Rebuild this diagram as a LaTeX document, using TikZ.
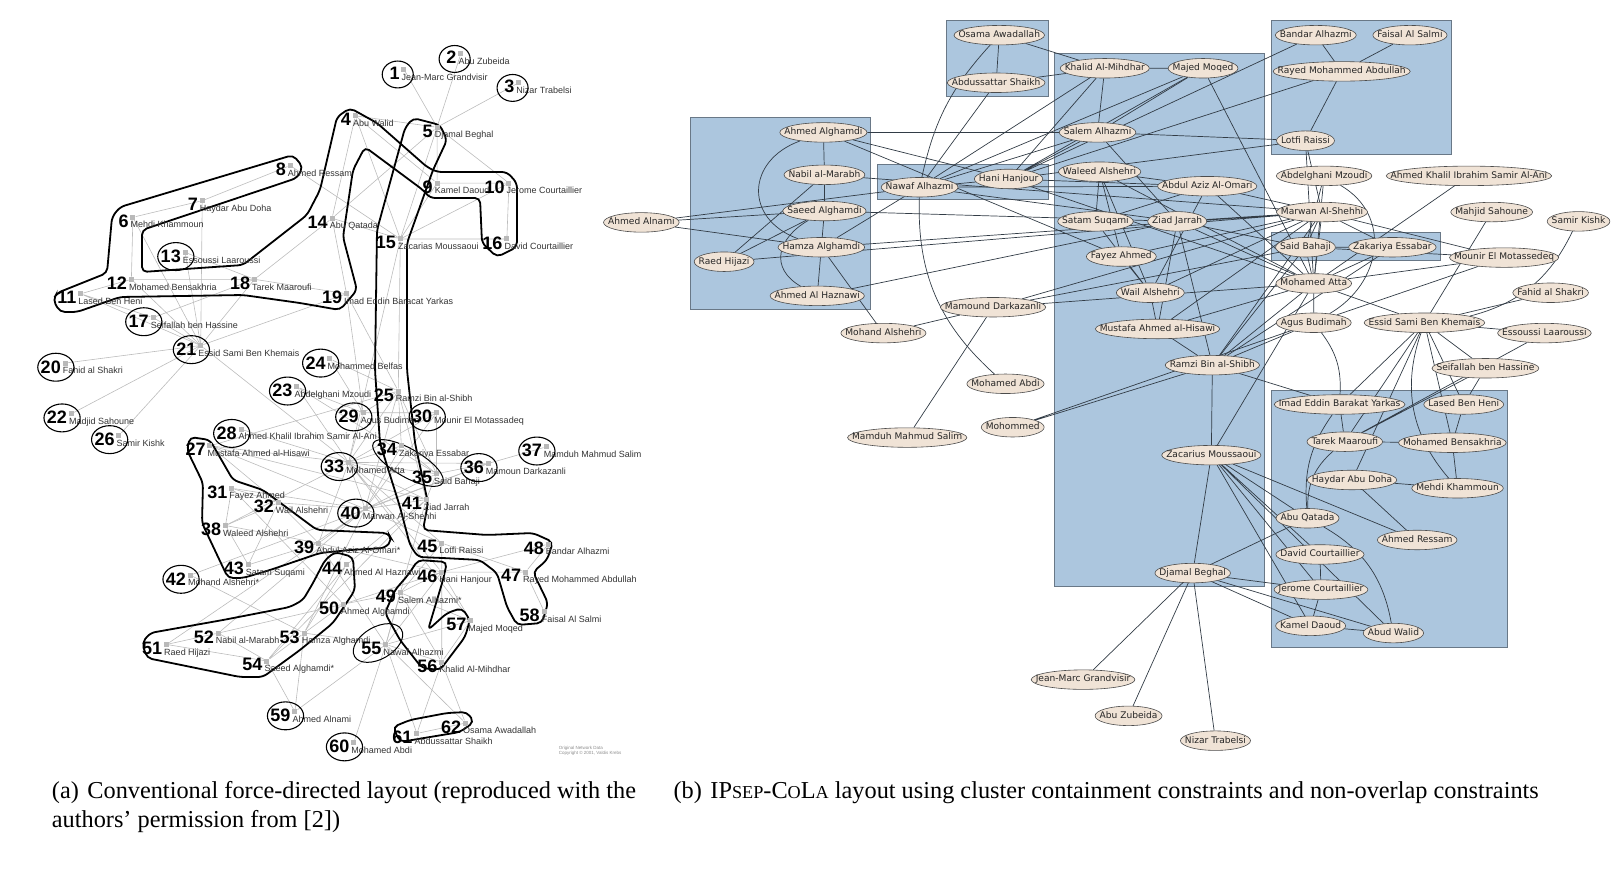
\documentclass[tikz,border=0pt]{standalone}
\usepackage{fontspec}
\setmainfont{Liberation Serif}
\setsansfont{Liberation Sans}
\newfontfamily\elfont{DejaVu Sans}
\usetikzlibrary{shapes}
\definecolor{clusterfill}{RGB}{172,198,222}
\definecolor{clusterline}{RGB}{105,120,135}
\definecolor{personfill}{RGB}{240,227,214}
\definecolor{linkc}{RGB}{50,60,70}
\definecolor{tiec}{RGB}{188,188,188}
\pgfdeclarelayer{back}
\pgfdeclarelayer{ties}
\pgfsetlayers{back,ties,main}
\tikzstyle{asq} = [rectangle, fill=gray!55, minimum size=5pt, inner sep=0pt]
\tikzstyle{anum} = [anchor=north east, inner sep=0pt, xshift=-1.5pt, font=\sffamily\bfseries\fontsize{18}{18}\selectfont]
\tikzstyle{alab} = [anchor=base west, inner sep=0pt, xshift=-2.5pt, yshift=-8pt, text=black!80, font=\sffamily\fontsize{9}{9}\selectfont]
\tikzstyle{ring} = [draw=black, line width=1.1pt]
\tikzstyle{hull} = [draw=black, line width=1.8pt, rounded corners=5pt]
\tikzstyle{tie} = [draw=tiec, line width=0.6pt]
\tikzstyle{person} = [ellipse, draw=black!70, fill=personfill, line width=0.6pt, inner xsep=3.2pt, inner ysep=0pt, minimum height=19.5pt, text height=6.6pt, text depth=1.9pt, text=black!85, font=\elfont\fontsize{9.1}{10}\selectfont]
\tikzstyle{cluster} = [draw=clusterline, fill=clusterfill, line width=0.7pt]
\tikzstyle{link} = [draw=linkc, line width=0.7pt]
\tikzstyle{caption} = [anchor=base west, inner sep=0pt, font=\rmfamily\fontsize{24.3}{24.3}\selectfont]
\tikzstyle{credit} = [anchor=west, align=left, inner sep=0pt, text=black!45, font=\sffamily\fontsize{4.5}{5}\selectfont]
\newcommand{\pname}[1]{\makebox[.7071\width]{#1}}
\newcommand{\smc}[1]{{\fontsize{18.2}{18.2}\selectfont #1}}

\begin{document}
\begin{tikzpicture}[x=1.03444pt, y=-1.03444pt]
\useasboundingbox (0,0) rectangle (1568,849);

% (a) hulls
\begin{scope}[x=1pt, y=-1pt]
\draw [hull] (293,155) -- (303,167) -- (297,178) -- (142,230) -- (142,272) -- (243,265) -- (307,215) -- (320,190) -- (337,117) -- (350,108) -- (377,123) -- (427,167) -- (437,172) -- (507,172) -- (517,183) -- (517,247) -- (497,257) -- (482,243) -- (480,198) -- (430,198) -- (423,190) -- (365,147) -- (353,170) -- (343,237) -- (357,290) -- (340,310) -- (300,303) -- (243,295) -- (120,297) -- (77,312) -- (60,312) -- (53,300) -- (57,293) -- (107,273) -- (112,217) -- (120,207) -- cycle;
\draw [hull] (413,118) -- (440,125) -- (447,140) -- (433,170) -- (407,243) -- (407,370) -- (415,443) -- (428,503) -- (423,530) -- (487,535) -- (533,533) -- (553,542) -- (547,560) -- (533,572) -- (548,603) -- (542,623) -- (517,625) -- (507,607) -- (497,573) -- (480,560) -- (443,558) -- (418,557) -- (410,545) -- (400,507) -- (380,443) -- (375,370) -- (377,230) -- (405,128) -- cycle;
\draw [hull] (190,437) -- (210,440) -- (233,480) -- (263,490) -- (317,530) -- (388,533) -- (392,540) -- (385,548) -- (350,550) -- (320,553) -- (270,570) -- (243,578) -- (228,578) -- (202,523) -- (203,483) -- (187,450) -- cycle;
\draw [hull] (142,643) -- (150,633) -- (223,620) -- (290,607) -- (303,600) -- (313,583) -- (325,560) -- (335,552) -- (353,557) -- (355,590) -- (333,623) -- (300,650) -- (263,677) -- (240,677) -- (147,658) -- cycle;
\draw [hull] (418,560) -- (447,562) -- (443,580) -- (428,630) -- (447,613) -- (462,608) -- (470,620) -- (465,637) -- (440,670) -- (422,668) -- (400,640) -- (385,613) -- (395,590) -- (408,575) -- cycle;
\draw [hull] (393,727) -- (410,720) -- (447,713) -- (467,712) -- (474,722) -- (460,732) -- (400,742) -- cycle;
\draw [hull, line width=1pt, rotate around={30:(378,643)}] (378,643) ellipse [x radius=27, y radius=16];
\draw [hull, line width=1pt, rotate around={-30:(408,463)}] (408,463) ellipse [x radius=40, y radius=14];
\end{scope}

% (a) nodes
\node (a1) [asq, label={[anum]135:1}, label={[alab]-90:Jean-Marc Grandvisir}] at (390.5,67) {};
\node (a2) [asq, label={[anum]135:2}, label={[alab]-90:Abu Zubeida}] at (445.5,52) {};
\node (a3) [asq, label={[anum]135:3}, label={[alab]-90:Nizar Trabelsi}] at (501.5,80) {};
\node (a4) [asq, label={[anum]135:4}, label={[alab]-90:Abu Walid}] at (343.5,112) {};
\node (a5) [asq, label={[anum]135:5}, label={[alab]-90:Djamal Beghal}] at (422.5,123) {};
\node (a6) [asq, label={[anum]135:6}, label={[alab]-90:Mehdi Khammoun}] at (128.5,210) {};
\node (a7) [asq, label={[anum]135:7}, label={[alab]-90:Haydar Abu Doha}] at (195.5,194) {};
\node (a8) [asq, label={[anum]135:8}, label={[alab]-90:Ahmed Ressam}] at (280.5,160) {};
\node (a9) [asq, label={[anum]135:9}, label={[alab]-90:Kamel Daoud}] at (422.5,177) {};
\node (a10) [asq, label={[anum]135:10}, label={[alab]-90:Jerome Courtaillier}] at (492,177) {};
\node (a11) [asq, label={[anum]135:11}, label={[alab]-90:Lased Ben Heni}] at (78,284) {};
\node (a12) [asq, label={[anum]135:12}, label={[alab]-90:Mohamed Bensakhria}] at (127,270) {};
\node (a13) [asq, label={[anum]135:13}, label={[alab]-90:Essoussi Laaroussi}] at (179,244) {};
\node (a14) [asq, label={[anum]135:14}, label={[alab]-90:Abu Qatada}] at (321,211) {};
\node (a15) [asq, label={[anum]135:15}, label={[alab]-90:Zacarias Moussaoui}] at (387,231) {};
\node (a16) [asq, label={[anum]135:16}, label={[alab]-90:David Courtaillier}] at (490,231) {};
\node (a17) [asq, label={[anum]135:17}, label={[alab]-90:Seifallah ben Hassine}] at (148,307) {};
\node (a18) [asq, label={[anum]135:18}, label={[alab]-90:Tarek Maaroufi}] at (246,270) {};
\node (a19) [asq, label={[anum]135:19}, label={[alab]-90:Imad Eddin Baracat Yarkas}] at (335,284) {};
\node (a20) [asq, label={[anum]135:20}, label={[alab]-90:Fahid al Shakri}] at (63,351) {};
\node (a21) [asq, label={[anum]135:21}, label={[alab]-90:Essid Sami Ben Khemais}] at (194,334) {};
\node (a22) [asq, label={[anum]135:22}, label={[alab]-90:Madjid Sahoune}] at (69,400) {};
\node (a23) [asq, label={[anum]135:23}, label={[alab]-90:Abdelghani Mzoudi}] at (287,374) {};
\node (a24) [asq, label={[anum]135:24}, label={[alab]-90:Mohammed Belfas}] at (319,347) {};
\node (a25) [asq, label={[anum]135:25}, label={[alab]-90:Ramzi Bin al-Shibh}] at (385,378) {};
\node (a26) [asq, label={[anum]135:26}, label={[alab]-90:Samir Kishk}] at (115,421) {};
\node (a27) [asq, label={[anum]135:27}, label={[alab]-90:Mustafa Ahmed al-Hisawi}] at (203,431) {};
\node (a28) [asq, label={[anum]135:28}, label={[alab]-90:Ahmed Khalil Ibrahim Samir Al-Ani}] at (233,415) {};
\node (a29) [asq, label={[anum]135:29}, label={[alab]-90:Agus Budiman}] at (351,399) {};
\node (a30) [asq, label={[anum]135:30}, label={[alab]-90:Mounir El Motassadeq}] at (422,399) {};
\node (a31) [asq, label={[anum]135:31}, label={[alab]-90:Fayez Ahmed}] at (224,472) {};
\node (a32) [asq, label={[anum]135:32}, label={[alab]-90:Wail Alshehri}] at (269,486) {};
\node (a33) [asq, label={[anum]135:33}, label={[alab]-90:Mohamed Atta}] at (337,447) {};
\node (a34) [asq, label={[anum]135:34}, label={[alab]-90:Zakariya Essabar}] at (388,431) {};
\node (a35) [asq, label={[anum]135:35}, label={[alab]-90:Said Bahaji}] at (422,458) {};
\node (a36) [asq, label={[anum]135:36}, label={[alab]-90:Mamoun Darkazanli}] at (472,448) {};
\node (a37) [asq, label={[anum]135:37}, label={[alab]-90:Mamduh Mahmud Salim}] at (528,432) {};
\node (a38) [asq, label={[anum]135:38}, label={[alab]-90:Waleed Alshehri}] at (218,508) {};
\node (a39) [asq, label={[anum]135:39}, label={[alab]-90:Abdul Aziz Al-Omari*}] at (308,525) {};
\node (a40) [asq, label={[anum]135:40}, label={[alab]-90:Marwan Al-Shehhi}] at (353,492) {};
\node (a41) [asq, label={[anum]135:41}, label={[alab]-90:Ziad Jarrah}] at (412,483) {};
\node (a42) [asq, label={[anum]135:42}, label={[alab]-90:Mohand Alshehri*}] at (184,556) {};
\node (a43) [asq, label={[anum]135:43}, label={[alab]-90:Satam Suqami}] at (240,546) {};
\node (a44) [asq, label={[anum]135:44}, label={[alab]-90:Ahmed Al Haznawi}] at (335,546) {};
\node (a45) [asq, label={[anum]135:45}, label={[alab]-90:Lotfi Raissi}] at (427,525) {};
\node (a46) [asq, label={[anum]135:46}, label={[alab]-90:Hani Hanjour}] at (427,553) {};
\node (a47) [asq, label={[anum]135:47}, label={[alab]-90:Rayed Mohammed Abdullah}] at (508,553) {};
\node (a48) [asq, label={[anum]135:48}, label={[alab]-90:Bandar Alhazmi}] at (530,526) {};
\node (a49) [asq, label={[anum]135:49}, label={[alab]-90:Salem Alhazmi*}] at (387,573) {};
\node (a50) [asq, label={[anum]135:50}, label={[alab]-90:Ahmed Alghamdi}] at (332,584) {};
\node (a51) [asq, label={[anum]135:51}, label={[alab]-90:Raed Hijazi}] at (161,623) {};
\node (a52) [asq, label={[anum]135:52}, label={[alab]-90:Nabil al-Marabh}] at (211,612) {};
\node (a53) [asq, label={[anum]135:53}, label={[alab]-90:Hamza Alghamdi}] at (294,612) {};
\node (a54) [asq, label={[anum]135:54}, label={[alab]-90:Saeed Alghamdi*}] at (258,639) {};
\node (a55) [asq, label={[anum]135:55}, label={[alab]-90:Nawaf Alhazmi}] at (373,623) {};
\node (a56) [asq, label={[anum]135:56}, label={[alab]-90:Khalid Al-Mihdhar}] at (427,640) {};
\node (a57) [asq, label={[anum]135:57}, label={[alab]-90:Majed Moqed}] at (455,600) {};
\node (a58) [asq, label={[anum]135:58}, label={[alab]-90:Faisal Al Salmi}] at (526,591) {};
\node (a59) [asq, label={[anum]135:59}, label={[alab]-90:Ahmed Alnami}] at (285,688) {};
\node (a60) [asq, label={[anum]135:60}, label={[alab]-90:Mohamed Abdi}] at (342,718) {};
\node (a61) [asq, label={[anum]135:61}, label={[alab]-90:Abdussattar Shaikh}] at (403,709) {};
\node (a62) [asq, label={[anum]135:62}, label={[alab]-90:Osama Awadallah}] at (450,699) {};
\node (credit) [credit] at (540,726) {Original Network Data\\Copyright \textcopyright{} 2001, Valdis Krebs};

% (a) rings
\draw [ring] (a1) ++(-6,5) ellipse [x radius=15, y radius=13];
\draw [ring] (a2) ++(-6,5) ellipse [x radius=15, y radius=13];
\draw [ring] (a3) ++(-6,5) ellipse [x radius=15, y radius=13];
\draw [ring] (a13) ++(-9,4) ellipse [x radius=17.5, y radius=13.5];
\draw [ring] (a17) ++(-9,4) ellipse [x radius=17.5, y radius=13.5];
\draw [ring] (a20) ++(-9,4) ellipse [x radius=17.5, y radius=13.5];
\draw [ring] (a21) ++(-9,4) ellipse [x radius=17.5, y radius=13.5];
\draw [ring] (a22) ++(-9,4) ellipse [x radius=17.5, y radius=13.5];
\draw [ring] (a23) ++(-9,4) ellipse [x radius=17.5, y radius=13.5];
\draw [ring] (a24) ++(-9,4) ellipse [x radius=17.5, y radius=13.5];
\draw [ring] (a26) ++(-9,4) ellipse [x radius=17.5, y radius=13.5];
\draw [ring] (a28) ++(-9,4) ellipse [x radius=17.5, y radius=13.5];
\draw [ring] (a29) ++(-9,4) ellipse [x radius=17.5, y radius=13.5];
\draw [ring] (a30) ++(-9,4) ellipse [x radius=17.5, y radius=13.5];
\draw [ring] (a33) ++(-9,4) ellipse [x radius=17.5, y radius=13.5];
\draw [ring] (a36) ++(-9,4) ellipse [x radius=17.5, y radius=13.5];
\draw [ring] (a37) ++(-9,4) ellipse [x radius=17.5, y radius=13.5];
\draw [ring] (a40) ++(-9,4) ellipse [x radius=17.5, y radius=13.5];
\draw [ring] (a42) ++(-9,4) ellipse [x radius=17.5, y radius=13.5];
\draw [ring] (a59) ++(-9,4) ellipse [x radius=17.5, y radius=13.5];
\draw [ring] (a60) ++(-9,4) ellipse [x radius=17.5, y radius=13.5];

% (a) edges
\begin{pgfonlayer}{ties}
\draw [tie] (a5) -- (a1) (a5) -- (a2) (a5) -- (a3) (a5) -- (a4) (a5) -- (a9) (a5) -- (a10) (a5) -- (a14) (a5) -- (a15);
\draw [tie] (a15) -- (a4) (a15) -- (a8) (a15) -- (a9) (a15) -- (a10) (a15) -- (a14) (a15) -- (a16) (a15) -- (a25) (a15) -- (a33);
\draw [tie] (a14) -- (a4) (a14) -- (a18) (a14) -- (a19) (a16) -- (a10) (a10) -- (a9) (a9) -- (a4);
\draw [tie] (a19) -- (a18) (a19) -- (a25) (a19) -- (a29) (a19) -- (a21) (a18) -- (a12) (a18) -- (a17) (a18) -- (a21) (a18) -- (a13);
\draw [tie] (a12) -- (a11) (a12) -- (a6) (a12) -- (a21) (a11) -- (a21) (a11) -- (a17) (a7) -- (a6) (a7) -- (a8) (a7) -- (a21) (a6) -- (a21);
\draw [tie] (a21) -- (a13) (a21) -- (a17) (a21) -- (a20) (a21) -- (a22) (a21) -- (a26) (a21) -- (a33);
\draw [tie] (a30) -- (a40) (a30) -- (a33) (a30) -- (a35) (a30) -- (a29) (a28) -- (a33) (a23) -- (a29) (a23) -- (a33) (a23) -- (a35);
\draw [tie] (a24) -- (a25) (a24) -- (a29) (a29) -- (a33) (a29) -- (a25);
\draw [tie] (a33) -- (a40) (a33) -- (a41) (a33) -- (a35) (a33) -- (a34) (a33) -- (a25) (a33) -- (a39) (a33) -- (a38) (a33) -- (a27) (a33) -- (a36) (a33) -- (a46) (a33) -- (a45) (a33) -- (a57);
\draw [tie] (a40) -- (a41) (a40) -- (a35) (a40) -- (a34) (a40) -- (a25) (a40) -- (a31) (a40) -- (a53) (a40) -- (a52) (a40) -- (a45) (a40) -- (a36) (a40) -- (a27) (a40) -- (a32) (a40) -- (a39) (a40) -- (a51);
\draw [tie] (a41) -- (a25) (a41) -- (a35) (a41) -- (a44) (a41) -- (a54) (a41) -- (a55) (a41) -- (a49) (a41) -- (a27);
\draw [tie] (a25) -- (a35) (a25) -- (a34) (a25) -- (a27) (a35) -- (a34) (a35) -- (a36);
\draw [tie] (a39) -- (a38) (a39) -- (a43) (a39) -- (a32) (a39) -- (a46) (a39) -- (a55) (a38) -- (a32) (a38) -- (a43) (a38) -- (a31);
\draw [tie] (a32) -- (a31) (a32) -- (a27) (a32) -- (a43) (a31) -- (a50) (a44) -- (a53) (a44) -- (a54);
\draw [tie] (a46) -- (a55) (a46) -- (a56) (a46) -- (a57) (a46) -- (a49) (a46) -- (a45) (a46) -- (a48) (a46) -- (a47) (a46) -- (a50);
\draw [tie] (a55) -- (a56) (a55) -- (a57) (a55) -- (a49) (a55) -- (a62) (a55) -- (a61) (a55) -- (a59) (a55) -- (a53) (a55) -- (a60);
\draw [tie] (a56) -- (a57) (a56) -- (a49) (a56) -- (a62) (a56) -- (a61) (a57) -- (a49) (a49) -- (a45) (a49) -- (a50);
\draw [tie] (a50) -- (a52) (a50) -- (a53) (a52) -- (a54) (a52) -- (a51) (a54) -- (a53) (a54) -- (a51) (a54) -- (a59) (a53) -- (a59) (a53) -- (a42);
\draw [tie] (a45) -- (a47) (a48) -- (a47) (a58) -- (a47) (a42) -- (a36) (a36) -- (a37) (a62) -- (a61);
\end{pgfonlayer}

% (b) clusters
\begin{pgfonlayer}{back}
\draw [cluster] (915,20) rectangle (1013,93);
\draw [cluster] (1019,52) rectangle (1222,567);
\draw [cluster] (1229,20) rectangle (1403,149);
\draw [cluster] (667,113) rectangle (841,299);
\draw [cluster] (848,159) rectangle (1013,193);
\draw [cluster] (1229,225) rectangle (1392,252);
\draw [cluster] (1229,377) rectangle (1457,626);
\end{pgfonlayer}

% (b) nodes
\node (b1) [person] at (1047,657) {\pname{Jean-Marc Grandvisir}};
\node (b2) [person] at (1091,692) {\pname{Abu Zubeida}};
\node (b3) [person] at (1175,716) {\pname{Nizar Trabelsi}};
\node (b4) [person] at (1347,612) {\pname{Abud Walid}};
\node (b5) [person] at (1153,554) {\pname{Djamal Beghal}};
\node (b6) [person] at (1409,472) {\pname{Mehdi Khammoun}};
\node (b7) [person] at (1307,464) {\pname{Haydar Abu Doha}};
\node (b8) [person] at (1370,522) {\pname{Ahmed Ressam}};
\node (b9) [person] at (1267,605) {\pname{Kamel Daoud}};
\node (b10) [person] at (1277,570) {\pname{Jerome Courtaillier}};
\node (b11) [person] at (1415,391) {\pname{Lased Ben Heni}};
\node (b12) [person] at (1404,428) {\pname{Mohamed Bensakhria}};
\node (b13) [person] at (1493,322) {\pname{Essoussi Laaroussi}};
\node (b14) [person] at (1264,501) {\pname{Abu Qatada}};
\node (b15) [person] at (1171,440) {\pname{Zacarius Moussaoui}};
\node (b16) [person] at (1276,536) {\pname{David Courtaillier}};
\node (b17) [person] at (1436,356) {\pname{Seifallah ben Hassine}};
\node (b18) [person] at (1300,427) {\pname{Tarek Maaroufi}};
\node (b19) [person] at (1295,391) {\pname{Imad Eddin Barakat Yarkas}};
\node (b20) [person] at (1499,283) {\pname{Fahid al Shakri}};
\node (b21) [person] at (1377,312) {\pname{Essid Sami Ben Khemais}};
\node (b22) [person] at (1442,205) {\pname{Mahjid Sahoune}};
\node (b23) [person] at (1280,170) {\pname{Abdelghani Mzoudi}};
\node (b24) [person] at (979,413) {\pname{Mohommed}};
\node (b25) [person] at (1172,353) {\pname{Ramzi Bin al-Shibh}};
\node (b26) [person] at (1526,214) {\pname{Samir Kishk}};
\node (b27) [person] at (1119,318) {\pname{Mustafa Ahmed al-Hisawi}};
\node (b28) [person] at (1420,170) {\pname{Ahmed Khalil Ibrahim Samir Al-Ani}};
\node (b29) [person] at (1270,312) {\pname{Agus Budimah}};
\node (b30) [person] at (1454,249) {\pname{Mounir El Motassedeq}};
\node (b31) [person] at (1084,248) {\pname{Fayez Ahmed}};
\node (b32) [person] at (1112,283) {\pname{Wail Alshehri}};
\node (b33) [person] at (1270,274) {\pname{Mohamed Atta}};
\node (b34) [person] at (1346,239) {\pname{Zakariya Essabar}};
\node (b35) [person] at (1262,239) {\pname{Said Bahaji}};
\node (b36) [person] at (960,297) {\pname{Mamound Darkazanli}};
\node (b37) [person] at (877,423) {\pname{Mamduh Mahmud Salim}};
\node (b38) [person] at (1063,166) {\pname{Waleed Alshehri}};
\node (b39) [person] at (1167,180) {\pname{Abdul Aziz Al-Omari}};
\node (b40) [person] at (1278,205) {\pname{Marwan Al-Shehhi}};
\node (b41) [person] at (1138,214) {\pname{Ziad Jarrah}};
\node (b42) [person] at (854,322) {\pname{Mohand Alshehri}};
\node (b43) [person] at (1059,214) {\pname{Satam Suqami}};
\node (b44) [person] at (790,286) {\pname{Ahmed Al Haznawi}};
\node (b45) [person] at (1262,136) {\pname{Lotfi Raissi}};
\node (b46) [person] at (975,173) {\pname{Hani Hanjour}};
\node (b47) [person] at (1297,69) {\pname{Rayed Mohammed Abdullah}};
\node (b48) [person] at (1272,34) {\pname{Bandar Alhazmi}};
\node (b49) [person] at (1061,128) {\pname{Salem Alhazmi}};
\node (b50) [person] at (796,128) {\pname{Ahmed Alghamdi}};
\node (b51) [person] at (700,253) {\pname{Raed Hijazi}};
\node (b52) [person] at (797,169) {\pname{Nabil al-Marabh}};
\node (b53) [person] at (794,239) {\pname{Hamza Alghamdi}};
\node (b54) [person] at (797,204) {\pname{Saeed Alghamdi}};
\node (b55) [person] at (889,181) {\pname{Nawaf Alhazmi}};
\node (b56) [person] at (1068,66) {\pname{Khalid Al-Mihdhar}};
\node (b57) [person] at (1163,66) {\pname{Majed Moqed}};
\node (b58) [person] at (1363,34) {\pname{Faisal Al Salmi}};
\node (b59) [person] at (620,215) {\pname{Ahmed Alnami}};
\node (b60) [person] at (972,371) {\pname{Mohamed Abdi}};
\node (b61) [person] at (963,80) {\pname{Abdussattar Shaikh}};
\node (b62) [person] at (966,34) {\pname{Osama Awadallah}};

% (b) edges
\begin{pgfonlayer}{ties}
\draw [link] (b5) -- (b1) (b5) -- (b2) (b5) -- (b3) (b5) -- (b4) (b5) -- (b9) (b5) -- (b10) (b5) -- (b14) (b5) -- (b15);
\draw [link] (b15) -- (b4) (b15) -- (b8) (b15) -- (b9) (b15) -- (b10) (b15) -- (b14) (b15) -- (b16) (b15) -- (b25) (b15) -- (b33);
\draw [link] (b16) -- (b10) (b10) -- (b9) (b9) -- (b4);
\draw [link] (b19) -- (b18) (b19) -- (b25) (b19) -- (b21) (b18) -- (b12) (b18) -- (b17) (b18) -- (b21) (b18) -- (b13);
\draw [link] (b12) -- (b11) (b12) -- (b6) (b12) -- (b21) (b11) -- (b21) (b11) -- (b17) (b7) -- (b6) (b7) -- (b8) (b7) -- (b21);
\draw [link] (b21) -- (b13) (b21) -- (b17) (b21) -- (b20) (b21) -- (b22) (b21) -- (b33);
\draw [link] (b30) -- (b40) (b30) -- (b33) (b30) -- (b35) (b30) -- (b29) (b28) -- (b33) (b23) -- (b33) (b23) -- (b35);
\draw [link] (b24) -- (b25) (b24) -- (b29) (b29) -- (b33) (b29) -- (b25);
\draw [link] (b33) -- (b40) (b33) -- (b41) (b33) -- (b35) (b33) -- (b34) (b33) -- (b25) (b33) -- (b39) (b33) -- (b38) (b33) -- (b27) (b33) -- (b36) (b33) -- (b46) (b33) -- (b45) (b33) -- (b57);
\draw [link] (b40) -- (b41) (b40) -- (b35) (b40) -- (b34) (b40) -- (b25) (b40) -- (b31) (b40) -- (b53) (b40) -- (b52) (b40) -- (b45) (b40) -- (b36) (b40) -- (b27) (b40) -- (b32) (b40) -- (b39) (b40) -- (b51);
\draw [link] (b41) -- (b25) (b41) -- (b35) (b41) -- (b44) (b41) -- (b54) (b41) -- (b55) (b41) -- (b49) (b41) -- (b27);
\draw [link] (b25) -- (b35) (b25) -- (b34) (b25) -- (b27) (b35) -- (b34) (b35) -- (b36);
\draw [link] (b39) -- (b38) (b39) -- (b43) (b39) -- (b32) (b39) -- (b46) (b39) -- (b55) (b38) -- (b32) (b38) -- (b43) (b38) -- (b31);
\draw [link] (b32) -- (b31) (b32) -- (b27) (b32) -- (b43) (b31) -- (b50) (b44) -- (b53);
\draw [link] (b46) -- (b55) (b46) -- (b56) (b46) -- (b57) (b46) -- (b49) (b46) -- (b45) (b46) -- (b48) (b46) -- (b47) (b46) -- (b50);
\draw [link] (b55) -- (b56) (b55) -- (b57) (b55) -- (b49) (b55) -- (b61) (b55) -- (b59) (b55) -- (b53);
\draw [link] (b56) -- (b57) (b56) -- (b49) (b56) -- (b62) (b56) -- (b61) (b57) -- (b49) (b49) -- (b45) (b49) -- (b50);
\draw [link] (b50) -- (b52) (b52) -- (b54) (b52) -- (b51) (b54) -- (b53) (b54) -- (b51) (b54) -- (b59) (b53) -- (b59) (b53) -- (b42);
\draw [link] (b45) -- (b47) (b48) -- (b47) (b58) -- (b47) (b42) -- (b36) (b36) -- (b37) (b62) -- (b61);
\draw [link] (b14) to [bend left=25] (b4);
\draw [link] (b18) to [bend right=25] (b14);
\draw [link] (b14) to [bend left=20] (b19);
\draw [link] (b29) to [bend left=20] (b19);
\draw [link] (b21) to [bend right=30] (b6);
\draw [link] (b26) to [bend left=25] (b21);
\draw [link] (b23) to [out=-30, in=30, looseness=1.2] (b29);
\draw [link] (b54) to [out=210, in=150, looseness=1.4] (b44);
\draw [link] (b62) to [bend right=15] (b55);
\draw [link] (b55) to [bend right=25] (b60);
\draw [link] (b50) to [out=200, in=160, looseness=1.5] (b53);
\end{pgfonlayer}

% Captions
\node (capa1) [caption] at (50,772) {(a)\hspace{.35em}Conventional force-directed layout (reproduced with the};
\node (capa2) [caption] at (50,800) {authors’ permission from [2])};
\node (capb) [caption] at (651,772) {(b)\hspace{.35em}IP\smc{SEP}-C\smc{O}L\smc{A} layout using cluster containment constraints and non-overlap constraints};

\end{tikzpicture}
\end{document}
